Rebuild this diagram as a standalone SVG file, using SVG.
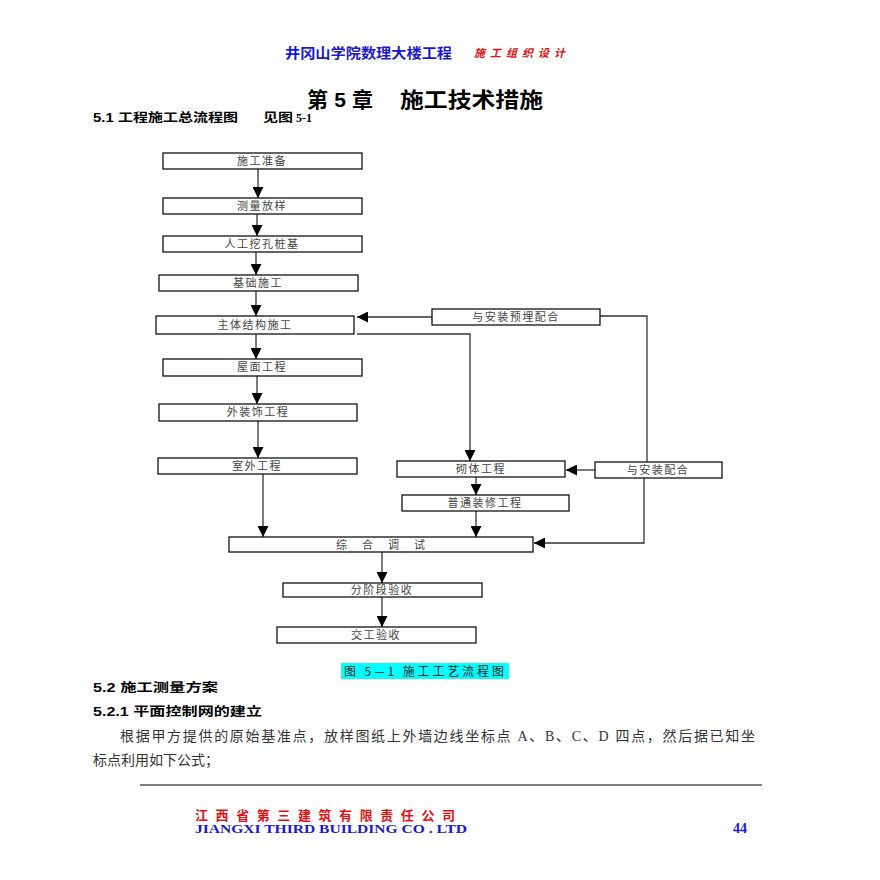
<svg xmlns="http://www.w3.org/2000/svg" width="880" height="880" viewBox="0 0 880 880">
<defs>
<style>
.bx rect{fill:#fff;stroke:#111;stroke-width:1.3}
.bx text{font-family:"Noto Sans CJK SC",sans-serif;font-size:11px;fill:#444;text-anchor:middle;letter-spacing:1.5px}
.cn path{fill:none;stroke:#333;stroke-width:1.3}
.h{font-family:"Liberation Sans","Noto Sans CJK SC",sans-serif;font-weight:bold;fill:#000}
.p{font-family:"Liberation Serif","Noto Sans CJK SC",serif;font-size:14px;fill:#333}
</style>
<marker id="ar" markerUnits="userSpaceOnUse" markerWidth="11" markerHeight="11" refX="11" refY="5.5" orient="auto">
<path d="M0,0 L11,5.5 L0,11 z" fill="#000"/>
</marker>
</defs>
<rect width="880" height="880" fill="#fff"/>

<!-- header -->
<text x="285" y="58" font-family="Noto Sans CJK SC,sans-serif" font-weight="bold" font-size="14" fill="#1a1acc" textLength="167" lengthAdjust="spacingAndGlyphs">井冈山学院数理大楼工程</text>
<text x="474" y="57" font-family="Noto Sans CJK SC,sans-serif" font-weight="bold" font-style="italic" font-size="11" fill="#e01010" textLength="91" lengthAdjust="spacing">施工组织设计</text>

<text class="h" x="307" y="107" font-size="21" textLength="66" lengthAdjust="spacing">第 5 章</text>
<text class="h" x="400" y="107" font-size="21" textLength="143" lengthAdjust="spacingAndGlyphs">施工技术措施</text>
<text class="h" x="93" y="122" font-size="12.5" textLength="145" lengthAdjust="spacingAndGlyphs">5.1 工程施工总流程图</text>
<text class="h" x="263" y="122" font-size="12.5" textLength="30" lengthAdjust="spacingAndGlyphs">见图</text>
<text x="296" y="122" font-family="Liberation Serif,serif" font-weight="bold" font-size="12" fill="#000">5-1</text>

<!-- connectors -->
<g class="cn">
<path d="M258,169 V198" marker-end="url(#ar)"/>
<path d="M257,214 V236" marker-end="url(#ar)"/>
<path d="M256,252 V275" marker-end="url(#ar)"/>
<path d="M256,291 V316" marker-end="url(#ar)"/>
<path d="M432,317 H357" marker-end="url(#ar)"/>
<path d="M256,334 V359" marker-end="url(#ar)"/>
<path d="M257,376 V404" marker-end="url(#ar)"/>
<path d="M258,421 V458" marker-end="url(#ar)"/>
<path d="M263,474 V537" marker-end="url(#ar)"/>
<path d="M357,334 H470 V461" marker-end="url(#ar)"/>
<path d="M600,316 H647 V462"/>
<path d="M595,470 H566" marker-end="url(#ar)"/>
<path d="M644,478 V543 H534" marker-end="url(#ar)"/>
<path d="M476,477 V495" marker-end="url(#ar)"/>
<path d="M476,511 V537" marker-end="url(#ar)"/>
<path d="M382,552 V583" marker-end="url(#ar)"/>
<path d="M382,597 V627" marker-end="url(#ar)"/>
</g>

<!-- nodes -->
<g id="n1" class="bx"><rect x="163" y="153" width="199" height="16"/><text x="262" y="165">施工准备</text></g>
<g id="n2" class="bx"><rect x="163" y="198" width="199" height="16"/><text x="262" y="210">测量放样</text></g>
<g id="n3" class="bx"><rect x="163" y="236" width="199" height="16"/><text x="262" y="248">人工挖孔桩基</text></g>
<g id="n4" class="bx"><rect x="159" y="275" width="199" height="16"/><text x="258" y="287">基础施工</text></g>
<g id="n5" class="bx"><rect x="156" y="316" width="198" height="18"/><text x="255" y="329">主体结构施工</text></g>
<g id="n6" class="bx"><rect x="432" y="309" width="168" height="16"/><text x="516" y="321">与安装预埋配合</text></g>
<g id="n7" class="bx"><rect x="163" y="359" width="199" height="17"/><text x="262" y="371">屋面工程</text></g>
<g id="n8" class="bx"><rect x="159" y="404" width="198" height="17"/><text x="258" y="416">外装饰工程</text></g>
<g id="n9" class="bx"><rect x="158" y="458" width="199" height="16"/><text x="257" y="470">室外工程</text></g>
<g id="n10" class="bx"><rect x="397" y="461" width="168" height="16"/><text x="481" y="473">砌体工程</text></g>
<g id="n11" class="bx"><rect x="595" y="462" width="127" height="16"/><text x="658" y="474">与安装配合</text></g>
<g id="n12" class="bx"><rect x="402" y="495" width="167" height="16"/><text x="485" y="507">普通装修工程</text></g>
<g id="n13" class="bx"><rect x="229" y="537" width="304" height="15"/><text x="388" y="549" style="letter-spacing:15px">综合调试</text></g>
<g id="n14" class="bx"><rect x="283" y="583" width="199" height="14"/><text x="382" y="594">分阶段验收</text></g>
<g id="n15" class="bx"><rect x="277" y="627" width="199" height="16"/><text x="376" y="639">交工验收</text></g>

<!-- caption -->
<rect x="341" y="663" width="168" height="16" fill="#00ffff"/>
<text x="344" y="676" font-family="Noto Sans CJK SC,sans-serif" font-size="12" fill="#222" textLength="160" lengthAdjust="spacing">图 5—1  施工工艺流程图</text>

<text class="h" x="93" y="692" font-size="12.5" textLength="125" lengthAdjust="spacingAndGlyphs">5.2 施工测量方案</text>
<text class="h" x="93" y="716" font-size="12.5" textLength="169" lengthAdjust="spacingAndGlyphs">5.2.1 平面控制网的建立</text>
<text class="p" x="120" y="741" textLength="635" lengthAdjust="spacing">根据甲方提供的原始基准点，放样图纸上外墙边线坐标点 A、B、C、D 四点，然后据已知坐</text>
<text class="p" x="93" y="765">标点利用如下公式；</text>

<!-- footer -->
<path d="M140,785 H762" stroke="#000" stroke-width="1.2"/>
<text x="195" y="820" font-family="Noto Sans CJK SC,sans-serif" font-weight="bold" font-size="13" fill="#e01010" textLength="260" lengthAdjust="spacing">江西省第三建筑有限责任公司</text>
<text x="195" y="833" font-family="Liberation Serif,serif" font-weight="bold" font-size="11.5" fill="#1a1acc" textLength="272" lengthAdjust="spacingAndGlyphs">JIANGXI THIRD BUILDING CO . LTD</text>
<text x="733" y="833" font-family="Liberation Serif,serif" font-weight="bold" font-size="14" fill="#1a1acc">44</text>
</svg>
